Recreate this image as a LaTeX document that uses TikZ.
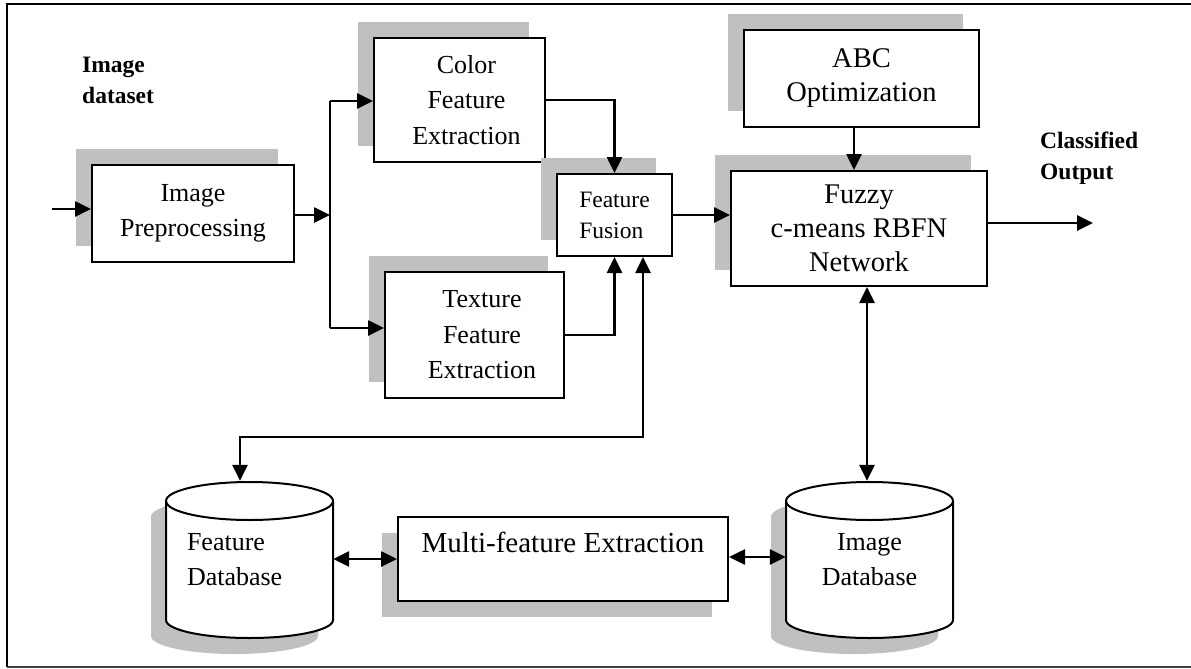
\documentclass[tikz,border=0pt]{standalone}
\usepackage{fontspec}
\setmainfont{Liberation Serif}
\usetikzlibrary{arrows.meta,shadows,calc}
\definecolor{shadegray}{RGB}{192,192,192}
\newcommand\dbcyl[2]{%
  \fill[shadegray] ({#1-15},517) -- ({#1-15},636)
     arc[start angle=180,end angle=360,x radius=83.5pt,y radius=18pt]
     -- ({#1+152},517)
     arc[start angle=0,end angle=180,x radius=83.5pt,y radius=19pt] -- cycle;
  \filldraw[fill=white,line width=2pt] (#1,501) -- (#1,620)
     arc[start angle=180,end angle=360,x radius=83.5pt,y radius=18pt]
     -- ({#1+167},501)
     arc[start angle=0,end angle=180,x radius=83.5pt,y radius=19pt] -- cycle;
  \draw[line width=2pt] (#1,501)
     arc[start angle=180,end angle=360,x radius=83.5pt,y radius=19pt];
}
\begin{document}
\begin{tikzpicture}[x=1pt,y=-1pt,
  box/.style={draw,line width=2pt,fill=white,inner sep=0pt,align=center},
  shup/.style={general shadow={fill=shadegray,shadow xshift=-16pt,shadow yshift=16pt}},
  shdown/.style={general shadow={fill=shadegray,shadow xshift=-16pt,shadow yshift=-16pt}},
  arr/.style={line width=2.6pt,-{Triangle[length=16pt,width=15pt]}},
  darr/.style={line width=2.6pt,{Triangle[length=16pt,width=15pt]}-{Triangle[length=16pt,width=15pt]}},
  fA/.style={font=\fontsize{26}{35.5}\selectfont},
  fB/.style={font=\fontsize{28.5}{34}\selectfont},
  fC/.style={font=\fontsize{23.5}{31}\selectfont},
  fBold/.style={font=\fontsize{23.5}{31}\selectfont\bfseries,inner sep=0pt,align=left,anchor=north west},
  dbnode/.style={inner sep=0pt,minimum width=167pt,minimum height=157pt,fA}
]
\useasboundingbox (0,0) rectangle (1191,669);
% frame
\draw[line width=2.5pt] (7,667) -- (7,4) -- (1191,4);
\draw[line width=1.5pt,black!75] (7,667) -- (1191,667);

% labels
\node[fBold] (ds) at (82,57.4) {Image\\dataset};
\node[fBold] (co) at (1040,131.4) {Classified\\Output};

% boxes
\node[box,shup,fA,minimum width=202pt,minimum height=97pt] (pre) at (193,213.5) {Image\\Preprocessing};
\node[box,shup,fA,minimum width=171pt,minimum height=124pt] (color) at (459.5,100)
  {\hspace*{14pt}Color\\\hspace*{14pt}Feature\\\hspace*{14pt}Extraction};
\node[box,shup,fA,minimum width=179pt,minimum height=126pt] (texture) at (474.5,335)
  {\hspace*{15pt}Texture\\\hspace*{15pt}Feature\\\hspace*{15pt}Extraction};
\node[box,shup,fC,align=left,minimum width=115pt,minimum height=82pt] (fusion) at (614.5,215) {Feature\\Fusion};
\node[box,shup,fB,minimum width=235pt,minimum height=97pt] (abc) at (861.5,78.5) {ABC\\Optimization};
\node[box,shup,fB,minimum width=256pt,minimum height=115pt] (fuzzy) at (859,228.5) {Fuzzy\\c-means RBFN\\Network};
\node[box,shdown,font=\fontsize{29}{34}\selectfont,minimum width=330pt,minimum height=84pt,text depth=33pt] (multi) at (563,559) {Multi-feature Extraction};

% databases
\dbcyl{166}{}
\dbcyl{786}{}
\node[dbnode,text width=125pt,align=left] (fdb) at (249.5,559.5) {Feature\\Database};
\node[dbnode,align=center] (idb) at (869.5,559.5) {Image\\Database};

% connectors
\coordinate (inp) at (52,209);
\coordinate (split) at (330,215);
\coordinate (bend) at (643,437);
\coordinate (out) at (1093,223);

\draw[arr] (inp) -- (inp -| pre.west);
\draw[arr] (pre.east |- split) -- (split);
\draw[line width=2.6pt] (330,101) -- (330,328);
\draw[arr] (330,101) -- (330,101 -| color.west);
\draw[arr] (330,328) -- (330,328 -| texture.west);
\draw[arr] (color.east) -| (fusion.north);
\draw[arr] (texture.east) -| (fusion.south);
\draw[darr] (fusion.south -| bend) -- (bend) -| ([xshift=-9.5pt]fdb.north);
\draw[arr] (fusion.east) -- (fusion.east -| fuzzy.west);
\draw[arr] ([xshift=-7.5pt]abc.south) -- ([xshift=-7.5pt]abc.south |- fuzzy.north);
\draw[arr] (out -| fuzzy.east) -- (out);
\draw[darr] ([xshift=8pt]fuzzy.south) -- ([xshift=8pt]fuzzy.south |- idb.north);
\draw[darr] (multi.west -| fdb.east) -- (multi.west);
\draw[darr] ([yshift=2pt]multi.east) -- ([yshift=2pt]multi.east -| idb.west);
\end{tikzpicture}
\end{document}
